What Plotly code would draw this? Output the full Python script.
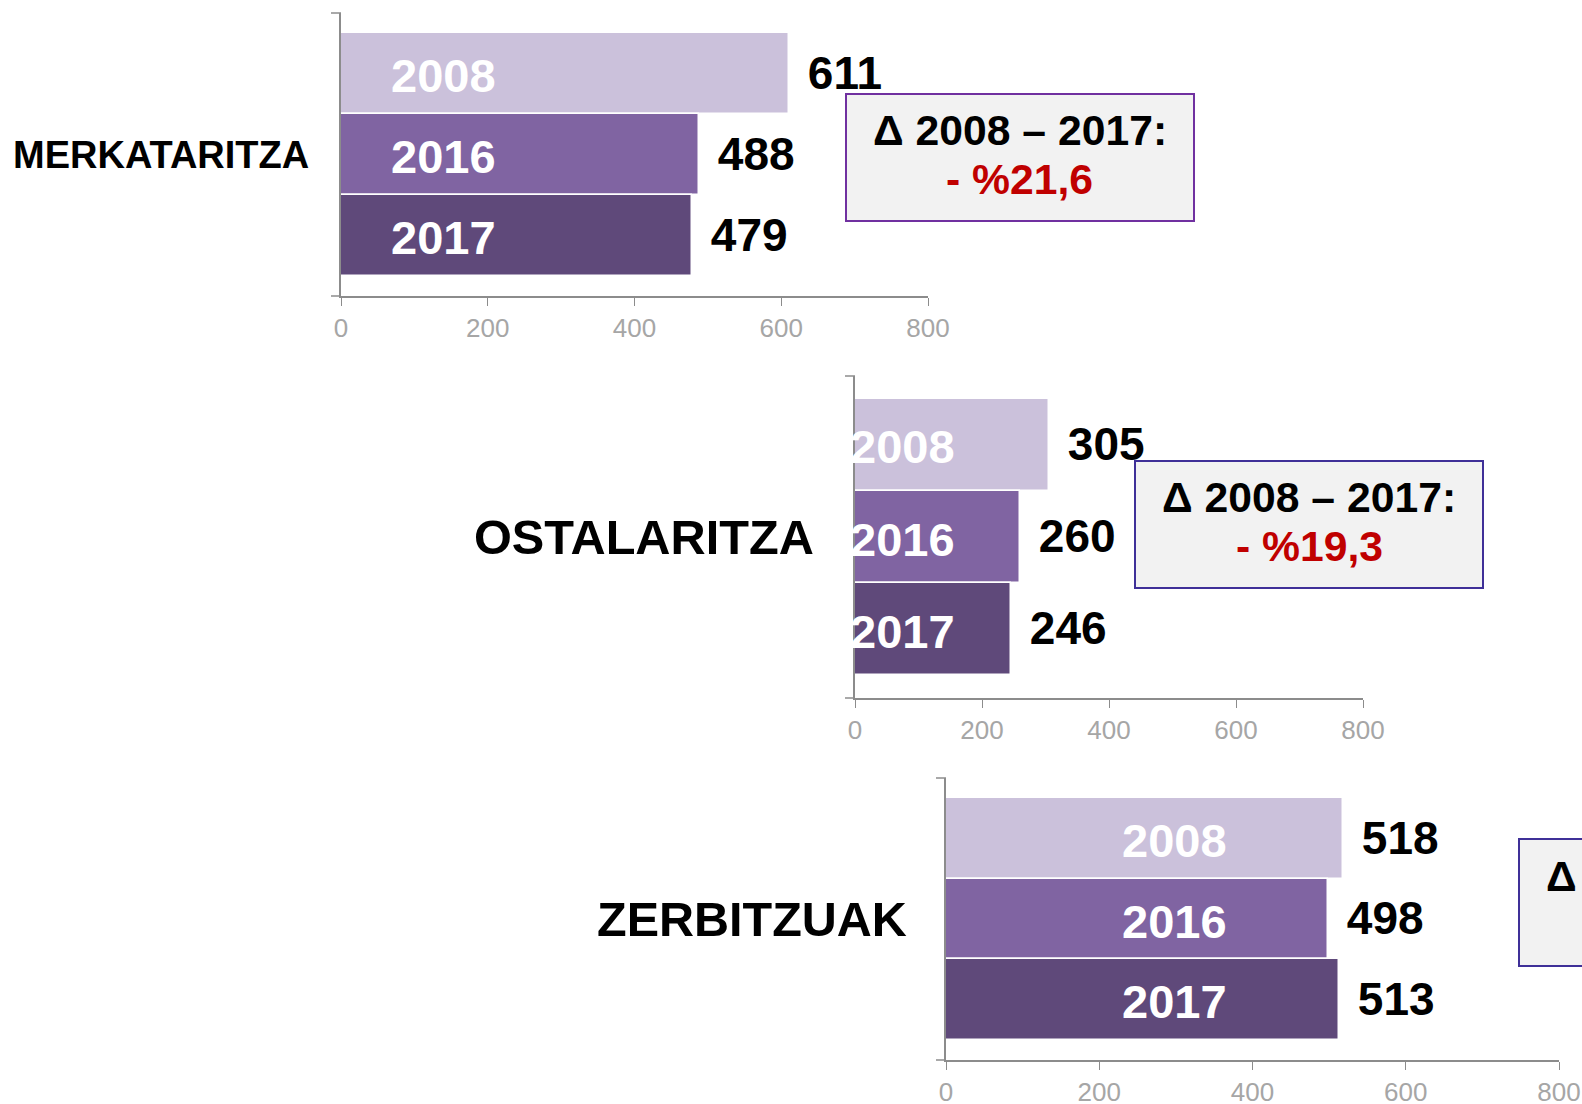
import plotly.graph_objects as go

W, H = 1582, 1104

sectors = ["MERKATARITZA", "OSTALARITZA", "ZERBITZUAK"]
years = ["2008", "2016", "2017"]
values_2008 = [611, 305, 518]
values_2016 = [488, 260, 498]
values_2017 = [479, 246, 513]
delta_labels = ["- %21,6", "- %19,3", "- %1,0"]
x_ticks = [0, 200, 400, 600, 800]

bar_colors = ["#CBC1DB", "#8064A2", "#5F497A"]
FONT = "Arial, Liberation Sans, sans-serif"

# panel geometry in page pixels: (x0, x1, ytop, ybottom)
panels = [(341, 928, 13, 296), (855, 1363, 376, 698), (946, 1559, 778, 1060)]
cat_label = [(38, 30), (48.7, 39), (48.5, 37)]  # font size, gap
year_label_x = [140, 75, 298]
boxes = [(846, 1194, 94, 221, "#7030A0"), (1135, 1483, 461, 588, "#3F3098"), (1519, 1867, 839, 966, "#3F3098")]


def px(x):
    return x / W


def py(y):
    return 1 - y / H


fig = go.Figure()
shapes = []
annotations = []

for i, sec in enumerate(sectors):
    vals = [values_2008[i], values_2016[i], values_2017[i]]
    xa = "x" if i == 0 else f"x{i+1}"
    ya = "y" if i == 0 else f"y{i+1}"
    fig.add_trace(go.Bar(
        y=years, x=vals, orientation="h",
        marker=dict(color=bar_colors, line=dict(color="white", width=1.5)),
        text=[f" \u200a{v}" for v in vals], textposition="outside",
        textfont=dict(family=FONT, size=46, color="black", weight="bold"),
        constraintext="none", cliponaxis=False, hoverinfo="skip",
        xaxis=xa, yaxis=ya, width=1, showlegend=False,
    ))
    x0, x1, yt, yb = panels[i]
    key = "" if i == 0 else str(i + 1)
    fig.layout["xaxis" + key] = dict(
        domain=[px(x0), px(x1)], range=[0, 800], anchor=ya, automargin=False,
        tickvals=x_ticks, ticks="outside", ticklen=8, tickcolor="#8C8C8C",
        showline=True, linecolor="#8C8C8C", linewidth=1.5, showgrid=False, zeroline=False,
        tickfont=dict(family=FONT, size=26, color="#A6A6A6"), fixedrange=True,
    )
    fig.layout["yaxis" + key] = dict(
        domain=[py(yb), py(yt)], anchor=xa, type="category", automargin=False,
        categoryorder="array", categoryarray=years, range=[2.75, -0.75],
        showline=True, linecolor="#8C8C8C", linewidth=1.5, showgrid=False,
        showticklabels=False, ticks="", zeroline=False, fixedrange=True,
    )
    # small left ticks at top and bottom of the y axis
    for yy in (0, 1):
        shapes.append(dict(type="line", xref=f"{xa} domain", yref=f"{ya} domain",
                           x0=-10 / (x1 - x0), x1=0, y0=yy, y1=yy,
                           line=dict(color="#8C8C8C", width=1.5)))
    # sector label
    fs, gap = cat_label[i]
    annotations.append(dict(text=f"<b>{sec}</b>", xref=f"{xa} domain", yref=f"{ya} domain",
                            x=0, y=0.5, xanchor="right", yanchor="middle", xshift=-gap,
                            showarrow=False, font=dict(family=FONT, size=fs, color="black")))
    # year labels inside bars
    for k, yr in enumerate(years):
        annotations.append(dict(text=f"<b>{yr}</b>", xref=xa, yref=ya, x=year_label_x[i], y=k,
                                xanchor="center", yanchor="middle", showarrow=False, yshift=-2,
                                font=dict(family=FONT, size=47, color="white")))
    # delta box
    bx0, bx1, by0, by1, bc = boxes[i]
    shapes.append(dict(type="rect", xref="paper", yref="paper",
                       x0=px(bx0), x1=px(bx1), y0=py(by1), y1=py(by0),
                       fillcolor="#F2F2F2", line=dict(color=bc, width=2), layer="above"))
    cx = px((bx0 + bx1) / 2)
    cy = (by0 + by1) / 2
    annotations.append(dict(text="<b>Δ 2008 – 2017:</b>", xref="paper", yref="paper",
                            x=cx, y=py(cy - 27), xanchor="center", yanchor="middle",
                            showarrow=False, font=dict(family=FONT, size=42.7, color="black")))
    annotations.append(dict(text=f"<b>{delta_labels[i]}</b>", xref="paper", yref="paper",
                            x=cx, y=py(cy + 21), xanchor="center", yanchor="middle",
                            showarrow=False, font=dict(family=FONT, size=42.7, color="#C00000")))

fig.update_layout(
    width=W, height=H, margin=dict(l=0, r=0, t=0, b=0, autoexpand=False),
    paper_bgcolor="white", plot_bgcolor="white",
    shapes=shapes, annotations=annotations, bargap=0,
)

fig.write_html(
    "out.html",
    config={"displayModeBar": False},
    post_script="document.body.style.margin='0px';document.body.style.overflow='hidden';",
)
